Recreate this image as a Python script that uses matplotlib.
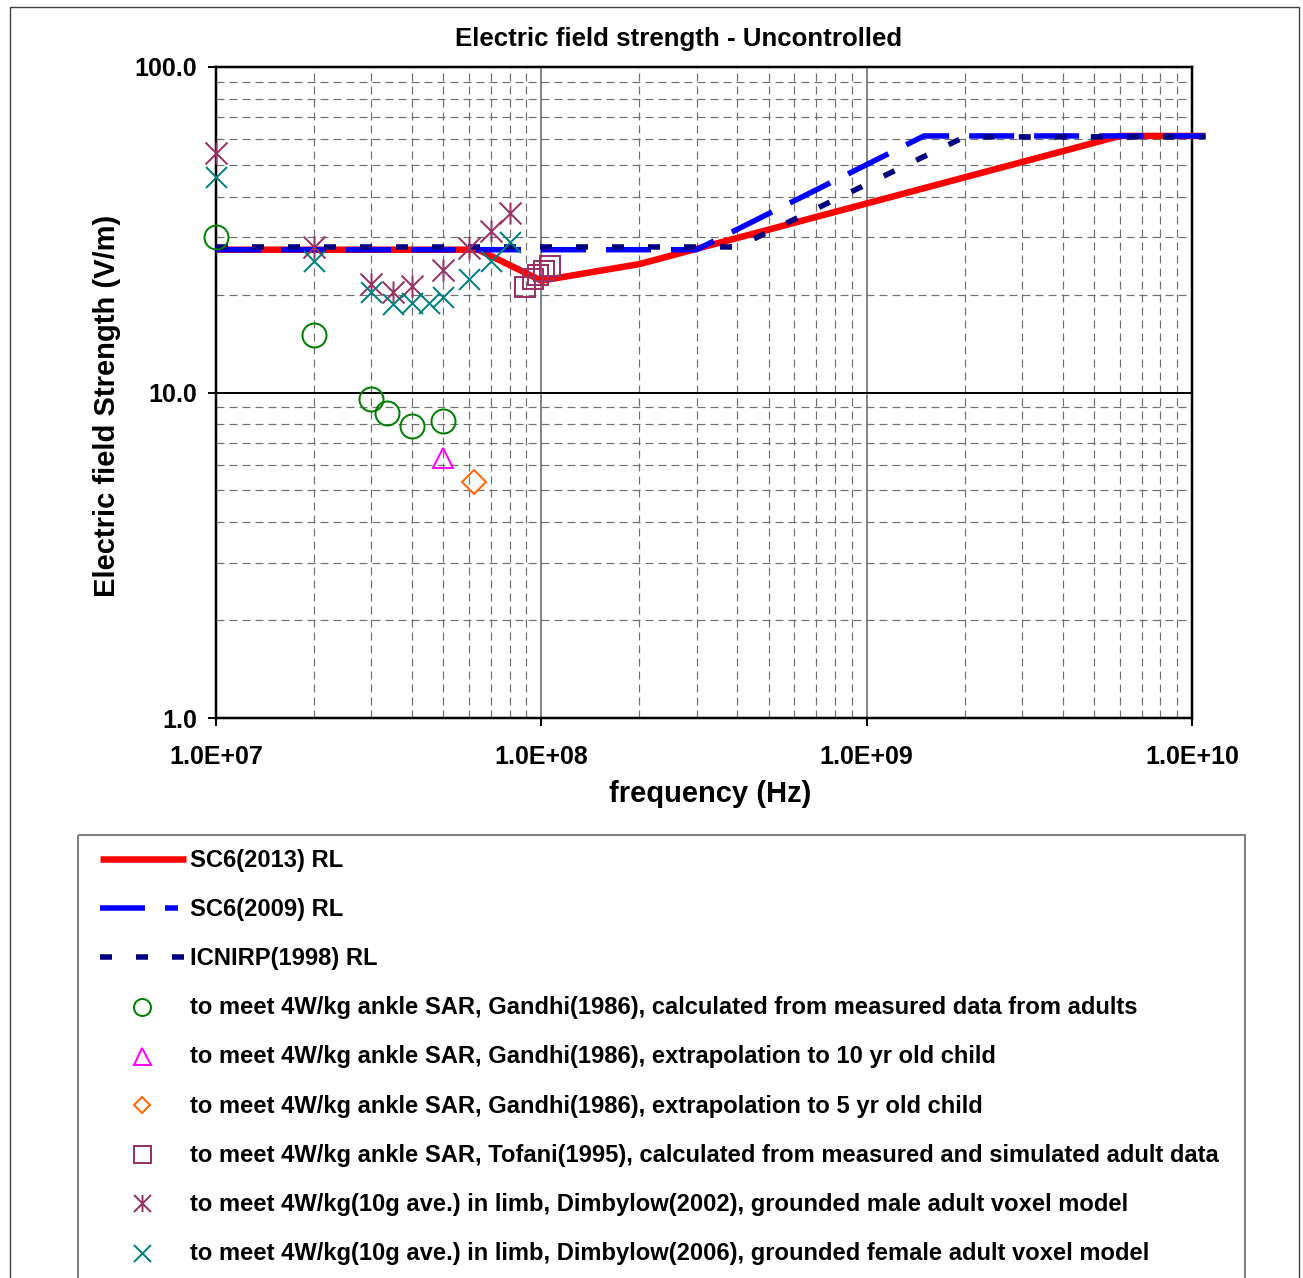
import matplotlib.pyplot as plt
from matplotlib.path import Path
from matplotlib.patches import Rectangle
from matplotlib.ticker import FixedLocator, FixedFormatter, LogLocator, NullFormatter

plt.rcParams["font.family"] = ["Liberation Sans", "DejaVu Sans"]
plt.rcParams["font.weight"] = "bold"
plt.rcParams["lines.scale_dashes"] = False

W, H, DPI = 1303, 1278, 100
PX = 72.0 / DPI  # points per pixel

# --- reference levels (frequency in Hz, E in V/m) ---
sc6_2013_f = [1e7, 6.4e7, 1e8, 2e8, 6e9, 1.1e10]
sc6_2013_e = [27.46, 27.46, 22.06, 24.8, 61.4, 61.4]
sc6_2009_f = [1e7, 3e8, 1.5e9, 1.1e10]
sc6_2009_e = [27.46, 27.46, 61.4, 61.4]
icnirp_f = [1e7, 4e8, 2e9, 1.1e10]
icnirp_e = [28.0, 28.0, 61.0, 61.0]

# --- field strength needed to reach the SAR limits ---
gandhi_adult_f = [1e7, 2e7, 3e7, 3.36e7, 4e7, 5e7]
gandhi_adult_e = [30.0, 15.0, 9.55, 8.65, 7.9, 8.2]
gandhi_10yr_f = [5e7]
gandhi_10yr_e = [6.3]
gandhi_5yr_f = [6.2e7]
gandhi_5yr_e = [5.3]
tofani_f = [8.91e7, 9.43e7, 9.77e7, 1.02e8, 1.06e8]
tofani_e = [21.1, 22.3, 23.0, 23.6, 24.5]
dimbylow_male_f = [1e7, 2e7, 3e7, 3.5e7, 4e7, 5e7, 6e7, 7e7, 8e7]
dimbylow_male_e = [54.5, 28.0, 21.6, 20.4, 21.2, 23.8, 27.7, 31.4, 35.7]
dimbylow_female_f = [1e7, 2e7, 3e7, 3.5e7, 4e7, 4.5e7, 5e7, 6e7, 7e7, 8e7]
dimbylow_female_e = [46.0, 25.4, 20.3, 18.7, 18.8, 18.8, 19.7, 22.3, 25.4, 28.9]

x_ticks = [1e7, 1e8, 1e9, 1e10]
x_tick_labels = ["1.0E+07", "1.0E+08", "1.0E+09", "1.0E+10"]
y_ticks = [1, 10, 100]
y_tick_labels = ["1.0", "10.0", "100.0"]

labels = [
    "SC6(2013) RL",
    "SC6(2009) RL",
    "ICNIRP(1998) RL",
    "to meet 4W/kg ankle SAR, Gandhi(1986), calculated from measured data from adults",
    "to meet 4W/kg ankle SAR, Gandhi(1986), extrapolation to 10 yr old child",
    "to meet 4W/kg ankle SAR, Gandhi(1986), extrapolation to 5 yr old child",
    "to meet 4W/kg ankle SAR, Tofani(1995), calculated from measured and simulated adult data",
    "to meet 4W/kg(10g ave.) in limb, Dimbylow(2002), grounded male adult voxel model",
    "to meet 4W/kg(10g ave.) in limb, Dimbylow(2006), grounded female adult voxel model",
]

# asterisk marker: an x with a vertical stroke
asterisk = Path(
    [(-0.5, -0.5), (0.5, 0.5), (-0.5, 0.5), (0.5, -0.5), (0, -0.5), (0, 0.5)],
    [Path.MOVETO, Path.LINETO, Path.MOVETO, Path.LINETO, Path.MOVETO, Path.LINETO],
)

line_styles = [
    dict(color="#FF0000", lw=6.5 * PX, ls="-", solid_capstyle="butt"),
    dict(color="#0000FF", lw=5.5 * PX, ls=(0, (45 * PX, 20 * PX)), dash_capstyle="butt"),
    dict(color="#000080", lw=5.5 * PX, ls=(0, (12 * PX, 24 * PX)), dash_capstyle="butt"),
]
marker_styles = [
    dict(marker="o", mec="#008000", ms=24 * PX),
    dict(marker="^", mec="#FF00FF", ms=20 * PX),
    dict(marker="D", mec="#FF6600", ms=17 * PX),
    dict(marker="s", mec="#993366", ms=20 * PX),
    dict(marker=asterisk, mec="#993366", ms=22 * PX),
    dict(marker="x", mec="#008080", ms=21 * PX),
]
legend_ms = [17, 17, 12, 17, 17, 17]

fig = plt.figure(figsize=(W / DPI, H / DPI), dpi=DPI)

# overlay in pixel units for the frame, title and legend
bg = fig.add_axes([0, 0, 1, 1], zorder=0)
bg.set_xlim(0, W)
bg.set_ylim(H, 0)
bg.axis("off")
bg.add_patch(Rectangle((10, 7), 1289, 1290, fill=False, ec="#404040", lw=1.0, clip_on=False))
bg.text(679, 39, "Electric field strength - Uncontrolled", ha="center", va="center",
        fontsize=18.6, fontweight="bold")

ax = fig.add_axes([216 / W, 1 - 718 / H, 976 / W, 651 / H], zorder=1)
ax.set_xscale("log")
ax.set_yscale("log")
ax.set_xlim(1e7, 1e10)
ax.set_ylim(1, 100)

series_lines = [(sc6_2013_f, sc6_2013_e), (sc6_2009_f, sc6_2009_e), (icnirp_f, icnirp_e)]
for i, ((f, e), st) in enumerate(zip(series_lines, line_styles)):
    ax.plot(f, e, clip_on=False, zorder=3 + i, **st)

series_pts = [
    (gandhi_adult_f, gandhi_adult_e),
    (gandhi_10yr_f, gandhi_10yr_e),
    (gandhi_5yr_f, gandhi_5yr_e),
    (tofani_f, tofani_e),
    (dimbylow_male_f, dimbylow_male_e),
    (dimbylow_female_f, dimbylow_female_e),
]
for (f, e), st in zip(series_pts, marker_styles):
    ax.plot(f, e, ls="none", mfc="none", mew=2 * PX, clip_on=False, zorder=7, **st)

# grid
ax.xaxis.set_major_locator(FixedLocator(x_ticks))
ax.xaxis.set_major_formatter(FixedFormatter(x_tick_labels))
ax.yaxis.set_major_locator(FixedLocator(y_ticks))
ax.yaxis.set_major_formatter(FixedFormatter(y_tick_labels))
for axis in (ax.xaxis, ax.yaxis):
    axis.set_minor_locator(LogLocator(base=10, subs=range(2, 10)))
    axis.set_minor_formatter(NullFormatter())
ax.grid(which="minor", color="#707070", lw=1.2 * PX, ls=(0, (8 * PX, 5 * PX)))
ax.grid(which="major", axis="x", color="#606060", lw=1.5 * PX, ls="-")
ax.grid(which="major", axis="y", color="black", lw=2 * PX, ls="-")
ax.set_axisbelow(True)

for sp in ax.spines.values():
    sp.set_linewidth(2.5 * PX)
    sp.set_color("black")
ax.tick_params(which="major", direction="out", length=8 * PX, width=2 * PX,
               labelsize=18, colors="black")
ax.tick_params(which="minor", length=0)
ax.tick_params(axis="y", pad=8)
ax.tick_params(axis="x", pad=14)
for t in ax.get_xticklabels() + ax.get_yticklabels():
    t.set_fontweight("bold")

ax.set_xlabel("frequency (Hz)", fontsize=21, fontweight="bold")
ax.set_ylabel("Electric field Strength (V/m)", fontsize=21, fontweight="bold")
ax.xaxis.set_label_coords((710 - 216) / 976, (718 - 794) / 651)
ax.xaxis.label.set_va("center")
ax.yaxis.set_label_coords((107 - 216) / 976, (718 - 406) / 651)
ax.yaxis.label.set_va("center")

# legend box drawn in pixel units
bg.add_patch(Rectangle((78, 835), 1167, 460, fill=False, ec="#808080", lw=1.5, clip_on=False))
row_y = [859 + 49.2 * k for k in range(len(labels))]
line_ends = [186, 178, 184]
for k, st in enumerate(line_styles):
    bg.plot([100, line_ends[k]], [row_y[k], row_y[k]], **st)
for k, st in enumerate(marker_styles):
    st = dict(st)
    st["ms"] = legend_ms[k] * PX
    bg.plot([142], [row_y[k + 3]], ls="none", mfc="none", mew=2 * PX, **st)
for k, lab in enumerate(labels):
    bg.text(190, row_y[k] + 1, lab, ha="left", va="center", fontsize=17.15, fontweight="bold")

fig.savefig("out.png", dpi=DPI, facecolor="white")
